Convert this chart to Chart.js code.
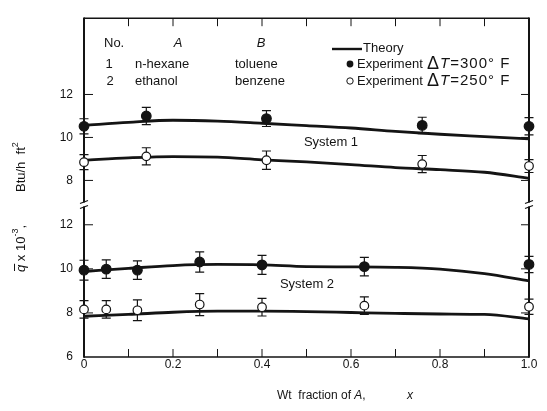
<!DOCTYPE html>
<html>
<head>
<meta charset="utf-8">
<script src="https://cdn.jsdelivr.net/npm/chart.js@4/dist/chart.umd.min.js"></script>
<style>
  html, body { margin: 0; padding: 0; background: #fff; }
  #chart { display: block; }
</style>
</head>
<body>
<canvas id="chart" width="547" height="411"></canvas>
<script>
// weight fraction of A, x
const xTicks = [0, 0.1, 0.2, 0.3, 0.4, 0.5, 0.6, 0.7, 0.8, 0.9, 1.0];
const xLabels = ['0', '', '0.2', '', '0.4', '', '0.6', '', '0.8', '', '1.0'];
const yTicksSys1 = [8, 10, 12];
const yTicksSys2 = [6, 8, 10, 12];

// theory curves, q x 10^-3 (Btu/h ft2)
const theoryX = [0, 0.1, 0.2, 0.3, 0.4, 0.5, 0.6, 0.7, 0.8, 0.9, 1.0];
const theorySys1Hot = [10.56, 10.7, 10.8, 10.76, 10.66, 10.55, 10.44, 10.28, 10.15, 10.04, 9.93];
const theorySys1Cool = [8.94, 9.05, 9.11, 9.08, 8.96, 8.86, 8.74, 8.6, 8.5, 8.38, 8.1];
const theorySys2Hot = [9.88, 10.02, 10.15, 10.2, 10.18, 10.1, 10.09, 10.07, 9.99, 9.78, 9.45];
const theorySys2Cool = [7.85, 7.93, 8.03, 8.08, 8.08, 8.06, 8.02, 7.98, 7.95, 7.93, 7.73];

// experiments: system 1 (n-hexane / toluene)
const sys1X = [0, 0.14, 0.41, 0.76, 1.0];
const sys1Hot = [10.52, 11.0, 10.88, 10.56, 10.52];      // dT = 300 F
const sys1HotErr = [0.35, 0.4, 0.37, 0.38, 0.4];
const sys1Cool = [8.85, 9.12, 8.94, 8.76, 8.67];         // dT = 250 F
const sys1CoolErr = [0.35, 0.4, 0.43, 0.4, 0.3];

// experiments: system 2 (ethanol / benzene)
const sys2X = [0, 0.05, 0.12, 0.26, 0.40, 0.63, 1.0];
const sys2Hot = [9.94, 9.99, 9.94, 10.31, 10.18, 10.1, 10.2];
const sys2HotErr = [0.45, 0.42, 0.42, 0.46, 0.43, 0.42, 0.37];
const sys2Cool = [8.16, 8.16, 8.12, 8.38, 8.26, 8.33, 8.28];
const sys2CoolErr = [0.4, 0.4, 0.47, 0.5, 0.4, 0.4, 0.35];

const INK = '#141414';
const FONT = '"Liberation Sans", Arial, sans-serif';
Chart.defaults.font.family = FONT;
Chart.defaults.color = INK;

const pts = (xs, ys) => xs.map((x, i) => ({ x: x, y: ys[i] }));

const marker = (label, xs, ys, errs, axis, filled) => ({
  type: 'scatter',
  label: label,
  data: pts(xs, ys),
  errors: errs,
  yAxisID: axis,
  pointRadius: filled ? 4.8 : 4.3,
  pointBorderWidth: 1.2,
  pointBackgroundColor: filled ? INK : '#fff',
  pointBorderColor: INK,
  clip: false
});

const theory = (ys, axis) => ({
  type: 'line',
  label: 'Theory',
  data: pts(theoryX, ys),
  yAxisID: axis,
  borderColor: INK,
  borderWidth: 2.8,
  pointRadius: 0,
  cubicInterpolationMode: 'monotone',
  fill: false,
  clip: false
});

function drawRuns(ctx, x, y, runs) {
  runs.forEach(([text, font, dy]) => {
    ctx.font = font;
    ctx.fillText(text, x, y + (dy || 0));
    x += ctx.measureText(text).width;
  });
  return x;
}

// box, inward ticks, error bars
const framePlugin = {
  id: 'frame',
  beforeDatasetsDraw(chart) {
    const { ctx, chartArea: a, scales } = chart;
    ctx.save();
    ctx.strokeStyle = INK;
    ctx.lineCap = 'butt';

    ctx.lineWidth = 1.6;
    ctx.beginPath();
    ctx.moveTo(a.left, a.top); ctx.lineTo(a.right, a.top);
    ctx.moveTo(a.left, a.bottom); ctx.lineTo(a.right, a.bottom);
    ctx.stroke();
    ctx.lineWidth = 2;
    ctx.beginPath();
    ctx.moveTo(a.left, a.top - 0.8); ctx.lineTo(a.left, a.bottom + 0.8);
    ctx.moveTo(a.right, a.top - 0.8); ctx.lineTo(a.right, a.bottom + 0.8);
    ctx.stroke();

    ctx.lineWidth = 1;
    ctx.beginPath();
    scales.x.ticks.forEach(t => {
      const px = scales.x.getPixelForValue(t.value);
      if (t.value > 0 && t.value < 1) {
        ctx.moveTo(px, a.bottom); ctx.lineTo(px, a.bottom - 8);
        ctx.moveTo(px, a.top); ctx.lineTo(px, a.top + 8);
      }
    });
    ['ySys1', 'ySys2'].forEach(id => {
      const s = scales[id];
      s.ticks.forEach(t => {
        const py = s.getPixelForValue(t.value);
        if (py > a.bottom - 1) return;
        ctx.moveTo(a.left, py); ctx.lineTo(a.left + 9, py);
        ctx.moveTo(a.right, py); ctx.lineTo(a.right - 8, py);
      });
    });
    ctx.stroke();

    // error bars
    ctx.lineWidth = 1.2;
    chart.data.datasets.forEach(ds => {
      if (!ds.errors) return;
      const ys = scales[ds.yAxisID];
      ds.data.forEach((p, j) => {
        const px = scales.x.getPixelForValue(p.x);
        const hi = ys.getPixelForValue(p.y + ds.errors[j]);
        const lo = ys.getPixelForValue(p.y - ds.errors[j]);
        ctx.beginPath();
        ctx.moveTo(px, hi); ctx.lineTo(px, lo);
        ctx.moveTo(px - 4.5, hi); ctx.lineTo(px + 4.5, hi);
        ctx.moveTo(px - 4.5, lo); ctx.lineTo(px + 4.5, lo);
        ctx.stroke();
      });
    });
    ctx.restore();
  },
  afterDatasetsDraw(chart) {
    const { ctx, chartArea: a, scales } = chart;
    const yb = scales.ySys1.bottom;
    ctx.save();
    // axis break marks
    [a.left, a.right].forEach(x0 => {
      ctx.fillStyle = '#fff';
      ctx.fillRect(x0 - 2, yb - 2, 4, 4);
      ctx.strokeStyle = INK;
      ctx.lineWidth = 1.3;
      ctx.beginPath();
      ctx.moveTo(x0 - 4, yb - 1); ctx.lineTo(x0 + 4, yb - 4);
      ctx.moveTo(x0 - 4, yb + 4); ctx.lineTo(x0 + 4, yb + 1);
      ctx.stroke();
    });

    ctx.fillStyle = INK;
    ctx.textBaseline = 'middle';
    const f13 = '13px ' + FONT;
    const i13 = 'italic 13px ' + FONT;

    // key table
    ctx.font = f13;
    ctx.textAlign = 'left';
    ctx.fillText('No.', 104, 43);
    ctx.textAlign = 'center';
    ctx.font = i13;
    ctx.fillText('A', 178, 43);
    ctx.fillText('B', 261, 43);
    ctx.font = f13;
    ctx.fillText('1', 109, 64);
    ctx.fillText('2', 110, 81);
    ctx.textAlign = 'left';
    ctx.fillText('n-hexane', 135, 64);
    ctx.fillText('toluene', 235, 64);
    ctx.fillText('ethanol', 135, 81);
    ctx.fillText('benzene', 235, 81);

    // symbol key
    ctx.strokeStyle = INK;
    ctx.lineWidth = 2.4;
    ctx.beginPath();
    ctx.moveTo(332, 49); ctx.lineTo(362, 49);
    ctx.stroke();
    ctx.fillText('Theory', 363, 48);
    ctx.beginPath();
    ctx.arc(350, 64, 3.4, 0, Math.PI * 2);
    ctx.fill();
    ctx.lineWidth = 1;
    ctx.beginPath();
    ctx.arc(350, 81, 3.2, 0, Math.PI * 2);
    ctx.stroke();
    [[64, '=300° F'], [81, '=250° F']].forEach(([y, t]) => {
      drawRuns(ctx, 357, y, [['Experiment', f13]]);
      ctx.letterSpacing = '1px';
      drawRuns(ctx, 427, y, [['Δ', '18px ' + FONT], ['T', 'italic 15px ' + FONT], [t, '15px ' + FONT]]);
      ctx.letterSpacing = '0px';
    });

    // system labels
    ctx.textAlign = 'center';
    ctx.font = f13;
    ctx.fillText('System 1', 331, 142);
    ctx.fillText('System 2', 307, 284);

    // tick numbers on the x axis are drawn by the scale; axis titles here
    ctx.textAlign = 'left';
    ctx.textBaseline = 'alphabetic';
    const f12 = '12px ' + FONT;
    const i12 = 'italic 12px ' + FONT;
    drawRuns(ctx, 277, 399, [['Wt  fraction of ', f12], ['A', i12], [',', f12]]);
    drawRuns(ctx, 407, 399, [['x', i12]]);

    ctx.translate(25, 272);
    ctx.rotate(-Math.PI / 2);
    let x = drawRuns(ctx, 0, 0, [['q', i13]]);
    ctx.lineWidth = 1;
    ctx.beginPath();
    ctx.moveTo(1, -10.5); ctx.lineTo(x + 1, -10.5);
    ctx.stroke();
    x = drawRuns(ctx, x, 0, [[' x 10', f13], ['-3', '9px ' + FONT, -7], [',', f13]]);
    drawRuns(ctx, 80, 0, [['Btu/h  ft', f13], ['2', '9px ' + FONT, -7]]);
    ctx.restore();
  }
};

new Chart(document.getElementById('chart'), {
  data: {
    datasets: [
      marker('Experiment ΔT=300°F', sys1X, sys1Hot, sys1HotErr, 'ySys1', true),
      marker('Experiment ΔT=250°F', sys1X, sys1Cool, sys1CoolErr, 'ySys1', false),
      marker('Experiment ΔT=300°F', sys2X, sys2Hot, sys2HotErr, 'ySys2', true),
      marker('Experiment ΔT=250°F', sys2X, sys2Cool, sys2CoolErr, 'ySys2', false),
      theory(theorySys1Hot, 'ySys1'),
      theory(theorySys1Cool, 'ySys1'),
      theory(theorySys2Hot, 'ySys2'),
      theory(theorySys2Cool, 'ySys2')
    ]
  },
  options: {
    responsive: false,
    animation: false,
    events: [],
    layout: { padding: { top: 6, right: 18, bottom: 0, left: 0 } },
    plugins: { legend: { display: false }, tooltip: { enabled: false } },
    scales: {
      x: {
        type: 'linear',
        min: 0,
        max: 1,
        afterBuildTicks: s => { s.ticks = xTicks.map(v => ({ value: v })); },
        afterFit: s => { s.height = 54; },
        ticks: {
          callback: (v, i) => xLabels[i],
          autoSkip: false,
          maxRotation: 0,
          padding: 0,
          font: { size: 12 }
        },
        grid: { display: false, drawTicks: false },
        border: { display: false }
      },
      ySys2: {
        type: 'linear',
        position: 'left',
        stack: 'q',
        stackWeight: 158,
        min: 6,
        max: 12.92,
        afterBuildTicks: s => { s.ticks = yTicksSys2.map(v => ({ value: v })); },
        afterFit: s => { s.width = 84; },
        ticks: { padding: 11, font: { size: 12 } },
        grid: { display: false, drawTicks: false },
        border: { display: false }
      },
      ySys1: {
        type: 'linear',
        position: 'left',
        stack: 'q',
        stackWeight: 193,
        min: 6.88,
        max: 15.55,
        afterBuildTicks: s => { s.ticks = yTicksSys1.map(v => ({ value: v })); },
        afterFit: s => { s.width = 84; },
        ticks: { padding: 11, font: { size: 12 } },
        grid: { display: false, drawTicks: false },
        border: { display: false }
      }
    }
  },
  plugins: [framePlugin]
});
</script>
</body>
</html>
